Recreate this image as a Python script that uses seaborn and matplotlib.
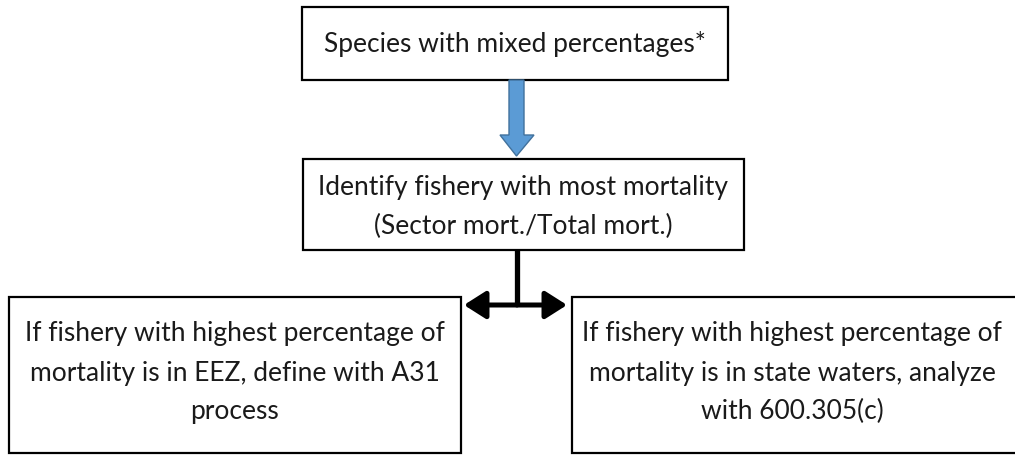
import matplotlib
matplotlib.use("Agg")
import matplotlib.pyplot as plt
from matplotlib.patches import Rectangle, Polygon, FancyArrowPatch
import seaborn as sns

sns.set_theme(style="white")
plt.rcParams['font.family'] = ['Lato', 'DejaVu Sans']

# ---- content ----
top_lines = ["Species with mixed percentages*"]
mid_lines = ["Identify fishery with most mortality", "(Sector mort./Total mort.)"]
left_lines = ["If fishery with highest percentage of",
              "mortality is in EEZ, define with A31",
              "process"]
right_lines = ["If fishery with highest percentage of",
               "mortality is in state waters, analyze",
               "with 600.305(c)"]

# ---- layout (pixel space) ----
W, H = 1015, 455
boxes = {
    "top":   dict(x0=302, x1=728, y0=7,   y1=80,  lines=top_lines,   ys=[44]),
    "mid":   dict(x0=303, x1=744, y0=159, y1=250, lines=mid_lines,   ys=[187, 226]),
    "left":  dict(x0=9,   x1=461, y0=297, y1=453, lines=left_lines,  ys=[334, 373, 411]),
    "right": dict(x0=572, x1=1022, y0=297, y1=453, lines=right_lines, ys=[334, 373, 411]),
}
FS = 19
TXT = "#1a1a1a"

fig = plt.figure(figsize=(W / 100, H / 100), dpi=100)
ax = fig.add_axes([0, 0, 1, 1])
ax.set_xlim(0, W)
ax.set_ylim(H, 0)
ax.axis("off")

for b in boxes.values():
    ax.add_patch(Rectangle((b["x0"], b["y0"]), b["x1"] - b["x0"], b["y1"] - b["y0"],
                           facecolor="white", edgecolor="black", lw=1.6, zorder=2))
    cx = (b["x0"] + min(b["x1"], W + 5)) / 2 if b["x1"] <= W else (b["x0"] + 1012) / 2
    for line, y in zip(b["lines"], b["ys"]):
        ax.text(cx, y, line, ha="center", va="center", fontsize=FS, color=TXT, zorder=3)

# blue block arrow
shaft_l, shaft_r, head_l, head_r = 509, 524, 500, 534
y_start, y_head, y_tip = 80, 135, 156
cxa = (shaft_l + shaft_r) / 2
arrow = Polygon([(shaft_l, y_start), (shaft_r, y_start), (shaft_r, y_head), (head_r, y_head),
                 (cxa, y_tip), (head_l, y_head), (shaft_l, y_head)],
                closed=True, facecolor="#5B9BD5", edgecolor="#41719C", lw=1.0, zorder=4)
ax.add_patch(arrow)

# connector
ax.plot([517, 517], [250, 306], color="black", lw=3.8, solid_capstyle="butt", zorder=3)
ax.add_patch(FancyArrowPatch((517, 305), (464, 305), arrowstyle="-|>,head_length=1.1,head_width=0.7",
                             mutation_scale=12, color="black", lw=3.6, shrinkA=0, shrinkB=0, zorder=3))
ax.add_patch(FancyArrowPatch((517, 305), (567, 305), arrowstyle="-|>,head_length=1.1,head_width=0.7",
                             mutation_scale=12, color="black", lw=3.6, shrinkA=0, shrinkB=0, zorder=3))

fig.savefig("out.png", dpi=100, facecolor="white")
